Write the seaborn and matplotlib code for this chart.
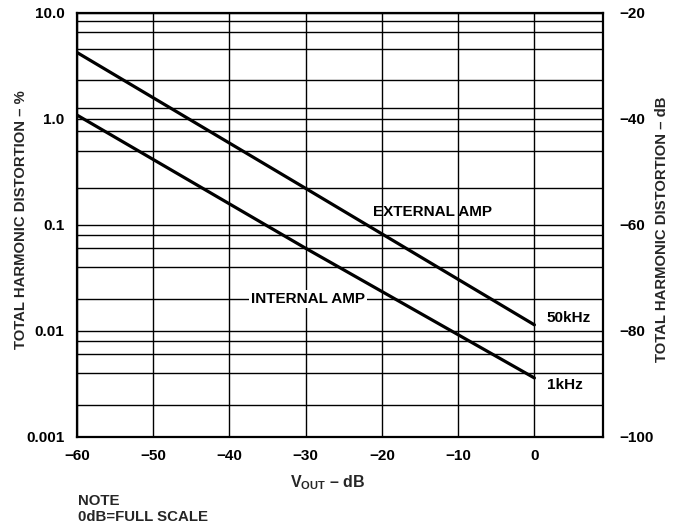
import matplotlib
matplotlib.use("Agg")
import matplotlib.pyplot as plt
import seaborn as sns
import pandas as pd

# ---- data ----
vout_db = [-60, -30, 0]
thd_external_50k = [4.2, 0.22, 0.0114]   # EXTERNAL AMP, 50kHz
thd_internal_1k = [1.08, 0.060, 0.0036]   # INTERNAL AMP, 1kHz

x_ticks = [-60, -50, -40, -30, -20, -10, 0]
x_tick_labels = ["\u221260", "\u221250", "\u221240", "\u221230", "\u221220", "\u221210", "0"]
y_major = [0.001, 0.01, 0.1, 1.0, 10.0]
y_major_labels = ["0.001", "0.01", "0.1", "1.0", "10.0"]
y_grid_minor = [8.4, 6.6, 4.5, 2.3, 1.25,
                0.77, 0.5, 0.22,
                0.08, 0.06, 0.04, 0.02,
                0.008, 0.006, 0.004, 0.002]
db_ticks = [-100, -80, -60, -40, -20]
db_tick_labels = ["\u2212100", "\u221280", "\u221260", "\u221240", "\u221220"]

sns.set_theme(style="white")
plt.rcParams["font.family"] = ["Liberation Sans", "DejaVu Sans"]
plt.rcParams["font.weight"] = "bold"
plt.rcParams["mathtext.fontset"] = "custom"
plt.rcParams["mathtext.rm"] = "Liberation Sans:bold"
plt.rcParams["mathtext.it"] = "Liberation Sans:bold"
plt.rcParams["mathtext.bf"] = "Liberation Sans:bold"

fig = plt.figure(figsize=(6.77, 5.25), dpi=100)
ax = fig.add_axes([77 / 677, 1 - 437 / 525, (603 - 77) / 677, (437 - 12.5) / 525])

df = pd.DataFrame({
    "vout": vout_db * 2,
    "thd": thd_external_50k + thd_internal_1k,
    "series": ["50kHz"] * len(vout_db) + ["1kHz"] * len(vout_db),
})
sns.lineplot(data=df, x="vout", y="thd", units="series", estimator=None,
             color="black", linewidth=2.3, ax=ax, legend=False)

ax.set_yscale("log")
ax.set_xlim(-60, 9)
ax.set_ylim(0.001, 10)

ax.set_xticks(x_ticks)
ax.set_xticklabels(x_tick_labels, fontsize=11, fontweight="bold")
ax.set_yticks(y_major)
ax.set_yticklabels(y_major_labels, fontsize=11, fontweight="bold")
ax.set_yticks(y_grid_minor, minor=True)
ax.set_yticklabels([], minor=True)
ax.tick_params(axis="y", which="both", length=0, pad=9, colors="black")
ax.tick_params(axis="x", which="both", length=0, pad=9, colors="black")
ax.grid(True, which="both", axis="y", color="black", linewidth=1.0)
ax.grid(True, which="major", axis="x", color="black", linewidth=1.0)
for s in ax.spines.values():
    s.set_color("black")
    s.set_linewidth(1.6)
ax.set_xlabel("")
ax.set_ylabel("")

ax2 = ax.twinx()
ax2.set_ylim(-100, -20)
ax2.set_yticks(db_ticks)
ax2.set_yticklabels(db_tick_labels, fontsize=11, fontweight="bold")
ax2.tick_params(axis="y", length=0, pad=12, colors="black")
ax2.grid(False)
for s in ax2.spines.values():
    s.set_visible(False)

# annotations
ax.text(-13.4, 0.133, "EXTERNAL AMP", fontsize=11, fontweight="bold",
        ha="center", va="center", color="black")
ax.text(-29.7, 0.02, "INTERNAL AMP", fontsize=11, fontweight="bold",
        ha="center", va="center", color="black",
        bbox=dict(facecolor="white", edgecolor="none", pad=1.5))
ax.text(1.6, 0.0132, "50kHz", fontsize=11, fontweight="bold",
        ha="left", va="center", color="black",
        bbox=dict(facecolor="white", edgecolor="none", pad=1.0))
ax.text(1.6, 0.0031, "1kHz", fontsize=11, fontweight="bold",
        ha="left", va="center", color="black",
        bbox=dict(facecolor="white", edgecolor="none", pad=1.0))

fig.text(21 / 677, 1 - 220 / 525, "TOTAL HARMONIC DISTORTION \u2013 %",
         rotation=90, ha="center", va="center", fontsize=10.7, fontweight="bold")
fig.text(662 / 677, 1 - 229 / 525, "TOTAL HARMONIC DISTORTION \u2013 dB",
         rotation=90, ha="center", va="center", fontsize=10.7, fontweight="bold")
fig.text(328 / 677, 1 - 483 / 525, "V$_{\\mathrm{OUT}}$ \u2013 dB",
         ha="center", va="center", fontsize=11.5, fontweight="bold")
fig.text(78 / 677, 1 - 494 / 525, "NOTE\n0dB=FULL SCALE",
         ha="left", va="top", fontsize=10.8, fontweight="bold", linespacing=1.15)

fig.savefig("out.png", dpi=100, facecolor="white")
